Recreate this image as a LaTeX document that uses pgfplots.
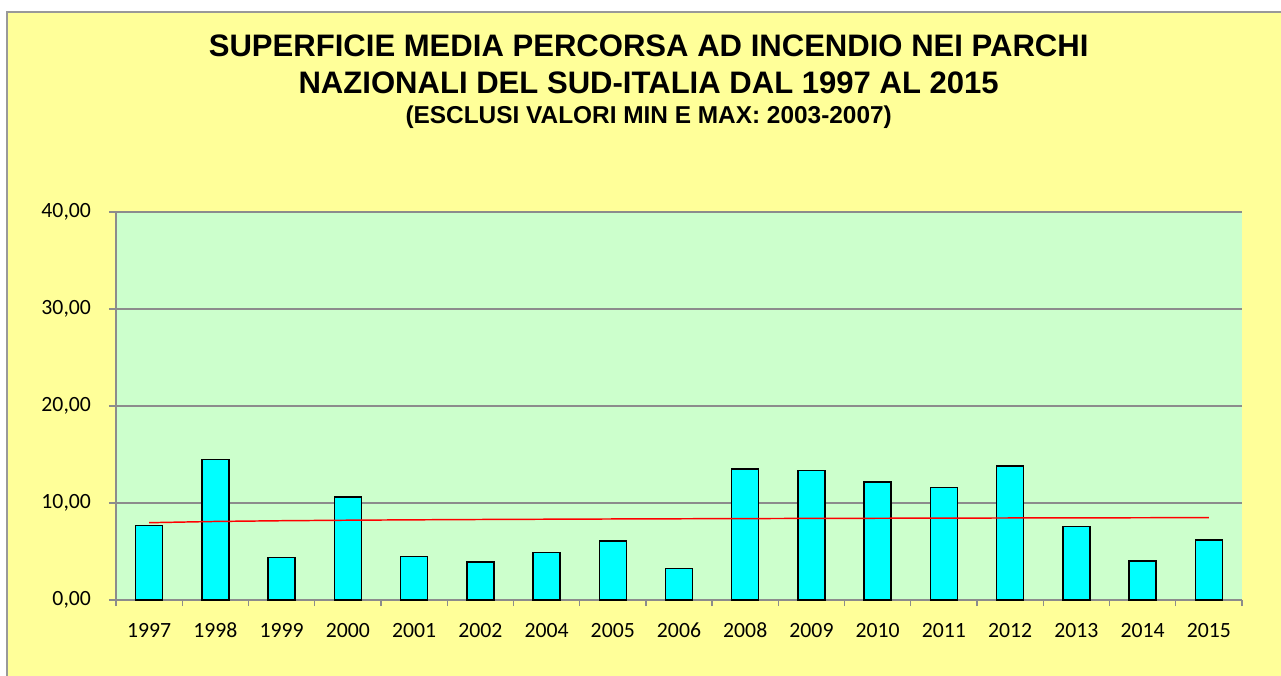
\documentclass[border=0pt]{standalone}
\usepackage{pgfplots}
\pgfplotsset{compat=1.18}
\usepackage{fontspec}
\setmainfont{Carlito}
\newfontfamily\arialfont{Liberation Sans}
\definecolor{bgyellow}{HTML}{FFFF99}
\definecolor{plotgreen}{HTML}{CCFFCC}
\definecolor{barcyan}{HTML}{00FFFF}
\definecolor{framegray}{HTML}{999999}
\definecolor{gridgray}{HTML}{8C8C8C}
\begin{document}
\begin{tikzpicture}[x=1pt,y=1pt]
\useasboundingbox (0,0) rectangle (960.75,506.25);
\fill[white] (0,0) rectangle (960.75,506.25);
\begin{scope}
\clip (0,0) rectangle (960.75,506.25);
\draw[framegray, line width=1.5pt, fill=bgyellow] (5.25,-10) rectangle (975,497.25);
\end{scope}
\node[anchor=base, font=\arialfont\bfseries\fontsize{23.3}{26}\selectfont] at (486.5,463.7) {SUPERFICIE MEDIA PERCORSA AD INCENDIO NEI PARCHI};
\node[anchor=base, font=\arialfont\bfseries\fontsize{23.3}{26}\selectfont] at (486.5,435.75) {NAZIONALI DEL SUD-ITALIA DAL 1997 AL 2015};
\node[anchor=base, font=\arialfont\bfseries\fontsize{18.3}{21}\selectfont] at (486.5,413.25) {(ESCLUSI VALORI MIN E MAX: 2003-2007)};
\begin{axis}[
  at={(87pt,56.25pt)}, anchor=south west,
  width=844.5pt, height=291pt, scale only axis,
  xmin=-0.5, xmax=16.5, ymin=0, ymax=40,
  axis background/.style={fill=plotgreen},
  axis x line*=bottom, axis y line*=left,
  axis line style={gridgray, line width=1pt},
  xtick={0,...,16},
  xticklabels={1997,1998,1999,2000,2001,2002,2004,2005,2006,2008,2009,2010,2011,2012,2013,2014,2015},
  minor xtick={-0.5,0.5,...,16.5},
  ytick={0,10,20,30,40},
  yticklabels={{0,00},{10,00},{20,00},{30,00},{40,00}},
  tick align=outside,
  x tick style={draw=none},
  minor x tick style={gridgray, line width=1pt, draw=gridgray},
  minor tick length=4.5pt,
  y tick style={gridgray, line width=1pt},
  major tick length=5.25pt,
  ymajorgrids, major grid style={gridgray, line width=1pt},
  tick label style={font=\fontsize{16.3}{18}\selectfont, text=black},
  xticklabel style={yshift=-8.5pt},
  yticklabel style={xshift=-10pt},
]
\addplot[ybar, bar width=20.25pt, fill=barcyan, draw=black, line width=1.1pt] coordinates {
(0,7.66) (1,14.5) (2,4.4) (3,10.6) (4,4.5) (5,3.9) (6,4.9) (7,6.1) (8,3.27)
(9,13.5) (10,13.37) (11,12.16) (12,11.6) (13,13.8) (14,7.56) (15,4.0) (16,6.2)
};
\addplot[red, line width=1.1pt] coordinates {
(0,7.970) (1,8.098) (2,8.172) (3,8.225) (4,8.266) (5,8.300) (6,8.328) (7,8.353) (8,8.374)
(9,8.394) (10,8.411) (11,8.427) (12,8.442) (13,8.456) (14,8.468) (15,8.480) (16,8.491)
};
\end{axis}
\end{tikzpicture}
\end{document}
